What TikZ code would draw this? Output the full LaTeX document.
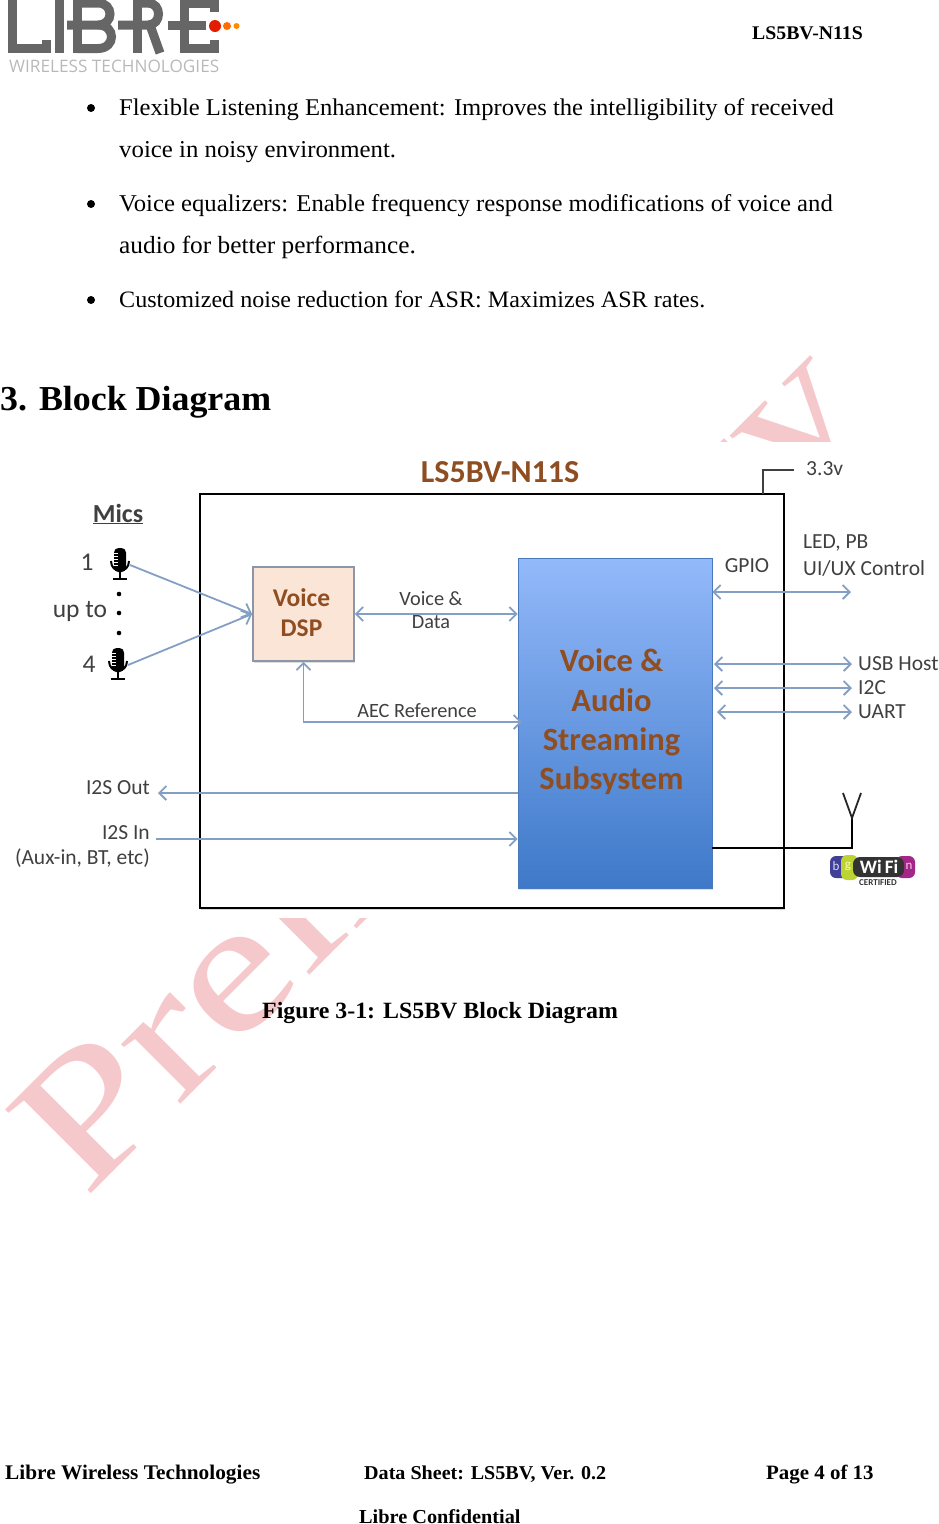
\documentclass[tikz,border=0pt]{standalone}
\usepackage{fontspec}
\setmainfont[FakeStretch=1.025]{Liberation Serif}
\setsansfont{Carlito}
\newfontfamily\wmfont[FakeStretch=1.285]{Liberation Serif}
\newfontfamily\logofont{Open Sans}
\usetikzlibrary{arrows.meta,shadows}

\definecolor{busblue}{HTML}{839FC4}
\definecolor{labelgray}{HTML}{404040}
\definecolor{brownish}{HTML}{8F4E22}
\definecolor{logogray}{HTML}{666666}
\definecolor{markpink}{HTML}{F5C9CB}
\definecolor{audiotop}{HTML}{93B9FA}
\definecolor{audiobot}{HTML}{3E79C9}
\definecolor{dspfill}{HTML}{FBE5D6}
\definecolor{dspedge}{HTML}{8C96A8}

\tikzset{
  bodyline/.style={anchor=base west, inner sep=0pt, font=\fontsize{24}{24}\selectfont},
  boldline/.style={anchor=base west, inner sep=0pt, font=\fontsize{20.800}{21}\selectfont\bfseries},
  labeltext/.style={inner sep=0pt, text=labelgray, font=\sffamily\fontsize{21.500}{25}\selectfont},
  smalltext/.style={inner sep=0pt, text=labelgray, font=\sffamily\fontsize{20.300}{23}\selectfont},
  bus/.style={draw=busblue, line width=1.800pt, arrows={<[sep=0pt]->}, >={Straight Barb[length=7pt,width=14pt]}},
  dspbox/.style={draw=dspedge, line width=1.800pt, fill=dspfill, minimum width=101pt, minimum height=94pt,
    drop shadow={shadow xshift=1pt, shadow yshift=-1.500pt, fill=gray!50}},
  dsptext/.style={inner sep=0pt, text=brownish, align=center, font=\sffamily\bfseries\fontsize{25.500}{30}\selectfont},
  audiobox/.style={draw=audiobot!80!gray, line width=0.800pt, top color=audiotop, bottom color=audiobot,
    minimum width=194pt, minimum height=330pt,
    drop shadow={shadow xshift=1pt, shadow yshift=-2pt, fill=gray!50}},
  audiotext/.style={inner sep=0pt, text=brownish, align=center, font=\sffamily\bfseries\fontsize{32.500}{39.300}\selectfont},
  logostroke/.style={draw=logogray, line width=9pt},
  mic/.pic={
    \fill[black, rounded corners=4.500pt] (-6,-16) rectangle (6,8);
    \foreach \yy in {-11,-8,-5,-2,1} \draw[white, line width=0.700pt] (-6,\yy) -- (-2,\yy);
    \draw[black, line width=2pt] (-9,-3) .. controls (-9,10) and (9,10) .. (9,-3);
    \draw[black, line width=2pt] (0,8) -- (0,15) (-7,15) -- (7,15);
  }
}

\begin{document}
\begin{tikzpicture}[x=1pt, y=-1pt]
\useasboundingbox (0,0) rectangle (939,1524);

% watermark, hidden behind the diagram
\node[anchor=base west, inner sep=0pt, rotate=45, text=markpink, font=\wmfont\fontsize{183}{183}\selectfont] (watermark) at (85,1200) {Preliminary};
\fill[white] (0,442) rectangle (939,918);

% logo
\draw[logostroke] (12.500,-5) -- (12.500,48.500) -- (46,48.500) -- (46,40);
\draw[logostroke] (59,-5) -- (59,53);
\draw[logostroke] (77,-5) -- (77,53);
\draw[logostroke] (77,3) -- (98,3) .. controls (114,3) and (114,25) .. (98,25) -- (67,25);
\draw[logostroke] (98,25) .. controls (116,25) and (116,48.500) .. (98,48.500) -- (77,48.500);
\draw[logostroke] (137,-5) -- (137,53);
\draw[logostroke] (137,3) -- (148,3) .. controls (162,3) and (162,25) .. (148,25) -- (118,25);
\draw[logostroke] (150,25) -- (160,53);
\draw[logostroke] (184,-5) -- (184,53);
\draw[logostroke] (184,3) -- (214,3) -- (214,12);
\draw[logostroke] (168,25) -- (206,25);
\draw[logostroke] (184,48.500) -- (214,48.500) -- (214,40);
\fill[red!75!orange!90!black] (215,26) circle (6pt);
\fill[orange!85!red] (227,26) circle (4pt);
\fill[orange!90!yellow] (236.500,26) circle (3pt);
\node[anchor=base west, inner sep=0pt, text=gray!55, font=\logofont\fontsize{17.200}{17}\selectfont] (logotext) at (9,72) {WIRELESS TECHNOLOGIES};

% header
\node[boldline, font=\fontsize{19.300}{19}\selectfont\bfseries] (header) at (752,39) {LS5BV-N11S};

% bullets
\foreach \yy in {108,204,300} \fill[black] (91,\yy) circle (4pt);
\node[bodyline] (lineone) at (119,115) {Flexible Listening Enhancement: Improves the intelligibility of received};
\node[bodyline, font=\fontsize{24.200}{24}\selectfont] (linetwo) at (119,157) {voice in noisy environment.};
\node[bodyline, font=\fontsize{24.100}{24}\selectfont] (linethree) at (119,211) {Voice equalizers: Enable frequency response modifications of voice and};
\node[bodyline, font=\fontsize{24.700}{24}\selectfont] (linefour) at (119,253) {audio for better performance.};
\node[bodyline, font=\fontsize{23.500}{24}\selectfont] (linefive) at (119,307) {Customized noise reduction for ASR: Maximizes ASR rates.};

% heading
\node[boldline, font=\fontsize{35}{35}\selectfont\bfseries] (heading) at (0,410) {3. Block Diagram};

% chip outline
\node[draw=black, line width=1.500pt, minimum width=584pt, minimum height=414pt,
  drop shadow={shadow xshift=1pt, shadow yshift=-2pt, fill=gray!60}, fill=white] (chip) at (492,701) {};
\node[inner sep=0pt, text=brownish, font=\sffamily\bfseries\fontsize{32}{32}\selectfont] (title) at (500,472) {LS5BV-N11S};

% blocks
\node[dspbox] (dsp) at (303.500,614) {};
\node[dsptext] (dsplabel) at (301.500,612.500) {Voice\\DSP};
\node[audiobox] (audio) at (615,723) {};
\node[audiotext] (audiolabel) at (611.500,722) {Voice \&\\Audio\\Streaming\\Subsystem};

% mics
\node[labeltext, font=\sffamily\bfseries\fontsize{26}{26}\selectfont] (mics) at (118,514) {\underline{Mics}};
\node[labeltext, font=\sffamily\fontsize{25.500}{26}\selectfont] (labone) at (87,562) {1};
\node[labeltext, font=\sffamily\fontsize{25.500}{26}\selectfont] (labupto) at (80,611) {up to};
\node[labeltext, font=\sffamily\fontsize{25.500}{26}\selectfont] (labfour) at (89,664) {4};
\pic at (120,564) {mic};
\pic at (118,664) {mic};
\foreach \yy in {594,613,633} \fill[black] (119,\yy) circle (2.300pt);
\coordinate (micone) at (130,565);
\coordinate (micfour) at (128,665);
\draw[bus, arrows={-{Straight Barb[length=8pt,width=15pt]}}] (micone) -- (dsp.west);
\draw[bus, arrows={-{Straight Barb[length=8pt,width=15pt]}}] (micfour) -- (dsp.west);

% voice and reference paths
\draw[bus] (dsp.east) -- (dsp.east -| audio.west);
\node[smalltext, align=center] (voicedata) at (431,610) {Voice \&\\Data};
\coordinate (aecend) at (522,722);
\draw[bus] (dsp.south) -- (dsp.south |- aecend) -- (aecend);
\node[smalltext] (aec) at (417,711) {AEC Reference};

% I2S
\node[labeltext, anchor=east] (ituout) at (150,788) {I2S Out};
\node[labeltext, anchor=east] (ituin) at (150,833) {I2S In};
\node[labeltext, anchor=east] (auxin) at (150,858) {(Aux-in, BT, etc)};
\coordinate (outend) at (158,793);
\coordinate (inend) at (156,839);
\draw[bus, arrows={->}] (audio.west |- outend) -- (outend);
\draw[bus, arrows={->}] (inend) -- (audio.west |- inend);

% GPIO and control buses
\node[labeltext] (gpio) at (747,566) {GPIO};
\node[labeltext, anchor=west] (ledpb) at (803,543) {LED, PB};
\node[labeltext, anchor=west] (uiux) at (803,568) {UI/UX Control};
\coordinate (gpioend) at (851,592);
\draw[bus] (audio.east |- gpioend) -- (gpioend);
\foreach \name/\yy/\xx/\lab in {usb/664/714/USB Host, itc/688/714/I2C, uart/712/717/UART} {
  \node[labeltext, anchor=west, inner sep=6pt] (\name) at (852,\yy) {\lab};
  \draw[bus] (\xx,\yy) -- (\name.west);
}

% supply
\node[labeltext, anchor=west] (supply) at (806,469) {3.3v};
\coordinate (supplytop) at (763,470);
\coordinate (supplybox) at (763,494);
\draw[labelgray, line width=1.500pt] (supplybox) -- (supplytop) -- (794,470);

% antenna
\coordinate (antfoot) at (852,848);
\coordinate (anttip) at (852,818);
\draw[black, line width=1.800pt] (audio.east |- antfoot) -- (antfoot) -- (anttip);
\draw[black!85, line width=1.800pt] (843,793) -- (anttip) -- (861,793);

% Wi-Fi mark
\fill[blue!45!black!75, rounded corners=6pt] (830,856) rectangle (850,878);
\fill[yellow!75!green!85!gray, rounded corners=6pt] (841,855) rectangle (858,880);
\fill[magenta!70!blue!85!black, rounded corners=6pt] (896,856) rectangle (915,878);
\fill[black!80, rounded corners=7pt] (853,857) rectangle (904,877);
\node[inner sep=0pt, text=white, font=\sffamily\bfseries\fontsize{19}{19}\selectfont] (wifi) at (879,867) {Wi\,Fi};
\node[inner sep=0pt, text=white!85!blue, font=\sffamily\fontsize{13}{13}\selectfont] (wifib) at (836,866) {b};
\node[inner sep=0pt, text=white!70!yellow, font=\sffamily\fontsize{13}{13}\selectfont] (wifig) at (848,866) {g};
\node[inner sep=0pt, text=white!80!magenta, font=\sffamily\fontsize{13}{13}\selectfont] (wifin) at (909,866) {n};
\node[inner sep=0pt, text=black!80, font=\sffamily\bfseries\fontsize{9}{9}\selectfont] (certified) at (878,883) {CERTIFIED};

% caption and footer
\node[boldline, font=\fontsize{23.300}{23}\selectfont\bfseries] (caption) at (262,1018) {Figure 3-1: LS5BV Block Diagram};
\node[boldline] (footleft) at (5,1479) {Libre Wireless Technologies};
\node[boldline, font=\fontsize{19.600}{20}\selectfont\bfseries] (footmid) at (364,1479) {Data Sheet: LS5BV, Ver. 0.2};
\node[boldline, font=\fontsize{20.400}{20}\selectfont\bfseries] (footright) at (766,1479) {Page 4 of 13};
\node[boldline, font=\fontsize{19.800}{20}\selectfont\bfseries] (footconf) at (359,1523) {Libre Confidential};
\end{tikzpicture}
\end{document}
